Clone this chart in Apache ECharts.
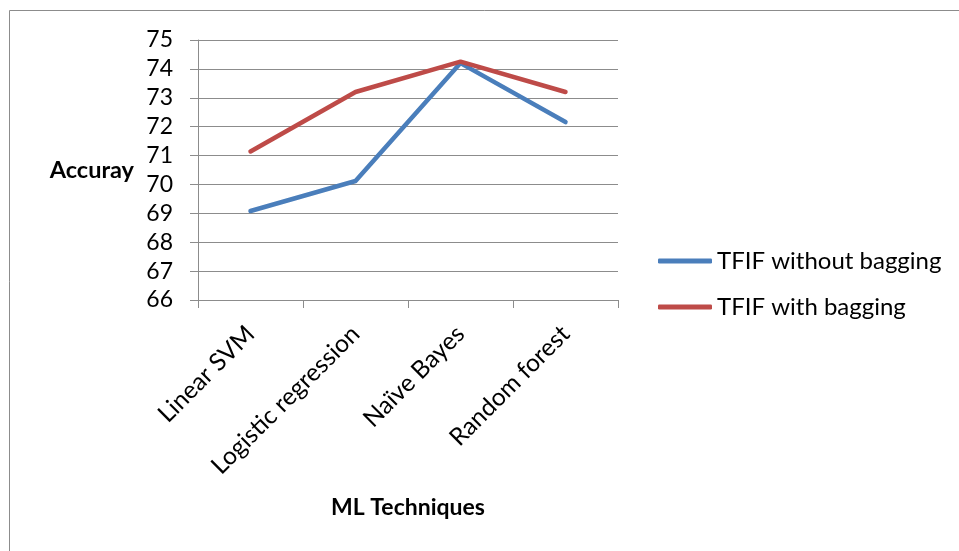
<!DOCTYPE html>
<html>
<head>
<meta charset="utf-8">
<script src="https://cdn.jsdelivr.net/npm/echarts@6/dist/echarts.min.js"></script>
<style>
  html, body { margin: 0; padding: 0; background: #fff; }
  #chart { width: 959px; height: 551px; }
</style>
</head>
<body>
<div id="chart"></div>
<script>
// Classification accuracy of the TFIF feature set, with and without bagging
const categories = ['Linear SVM', 'Logistic regression', 'Naïve Bayes', 'Random forest'];
const withoutBagging = [69.08, 70.12, 74.2, 72.16];
const withBagging = [71.14, 73.2, 74.25, 73.2];
const seriesNames = ['TFIF without bagging', 'TFIF with bagging'];

const FONT = 'Lato, "Open Sans", sans-serif';
const GRID_COLOR = '#8c8c8c';

const chart = echarts.init(document.getElementById('chart'), null, { renderer: 'canvas' });

chart.setOption({
  animation: false,
  backgroundColor: '#ffffff',
  textStyle: { fontFamily: FONT, color: '#000' },
  graphic: [{
    type: 'rect',
    shape: { x: 9.5, y: 10.5, width: 1000, height: 600 },
    style: { fill: 'none', stroke: '#8c8c8c', lineWidth: 1 },
    silent: true
  }],
  grid: { left: 198, right: 341, top: 40, bottom: 251 },
  legend: {
    orient: 'vertical',
    left: 653,
    top: 244,
    itemWidth: 54,
    itemHeight: 5,
    itemGap: 22,
    icon: 'roundRect',
    textStyle: { fontFamily: FONT, fontSize: 24, color: '#000' },
    data: seriesNames
  },
  xAxis: {
    type: 'category',
    data: categories,
    boundaryGap: true,
    name: 'ML Techniques',
    nameLocation: 'middle',
    nameGap: 196,
    nameTextStyle: { fontFamily: FONT, fontSize: 23, fontWeight: 'bold', color: '#000' },
    axisLine: { show: true, lineStyle: { color: GRID_COLOR, width: 1 } },
    axisTick: { show: true, length: 8, alignWithLabel: false, lineStyle: { color: GRID_COLOR } },
    axisLabel: { rotate: 45, fontSize: 24.5, color: '#000', fontFamily: FONT, margin: 30, interval: 0 },
    splitLine: { show: false }
  },
  yAxis: {
    type: 'value',
    min: 66,
    max: 75,
    interval: 1,
    name: 'Accuray',
    nameLocation: 'middle',
    nameRotate: 0,
    nameGap: 64,
    nameTextStyle: { fontFamily: FONT, fontSize: 23.5, fontWeight: 'bold', color: '#000', align: 'right' },
    axisLine: { show: true, lineStyle: { color: GRID_COLOR, width: 1 } },
    axisTick: { show: true, length: 8, lineStyle: { color: GRID_COLOR } },
    axisLabel: { fontSize: 23, color: '#000', fontFamily: FONT, margin: 25 },
    splitLine: { show: true, lineStyle: { color: GRID_COLOR, width: 1 } }
  },
  series: [
    {
      name: seriesNames[0],
      type: 'line',
      data: withoutBagging,
      symbol: 'none',
      color: '#4a7ebb',
      lineStyle: { width: 4.5, color: '#4a7ebb', cap: 'round', join: 'round' }
    },
    {
      name: seriesNames[1],
      type: 'line',
      data: withBagging,
      symbol: 'none',
      color: '#be4b48',
      lineStyle: { width: 4.5, color: '#be4b48', cap: 'round', join: 'round' }
    }
  ]
});
</script>
</body>
</html>
